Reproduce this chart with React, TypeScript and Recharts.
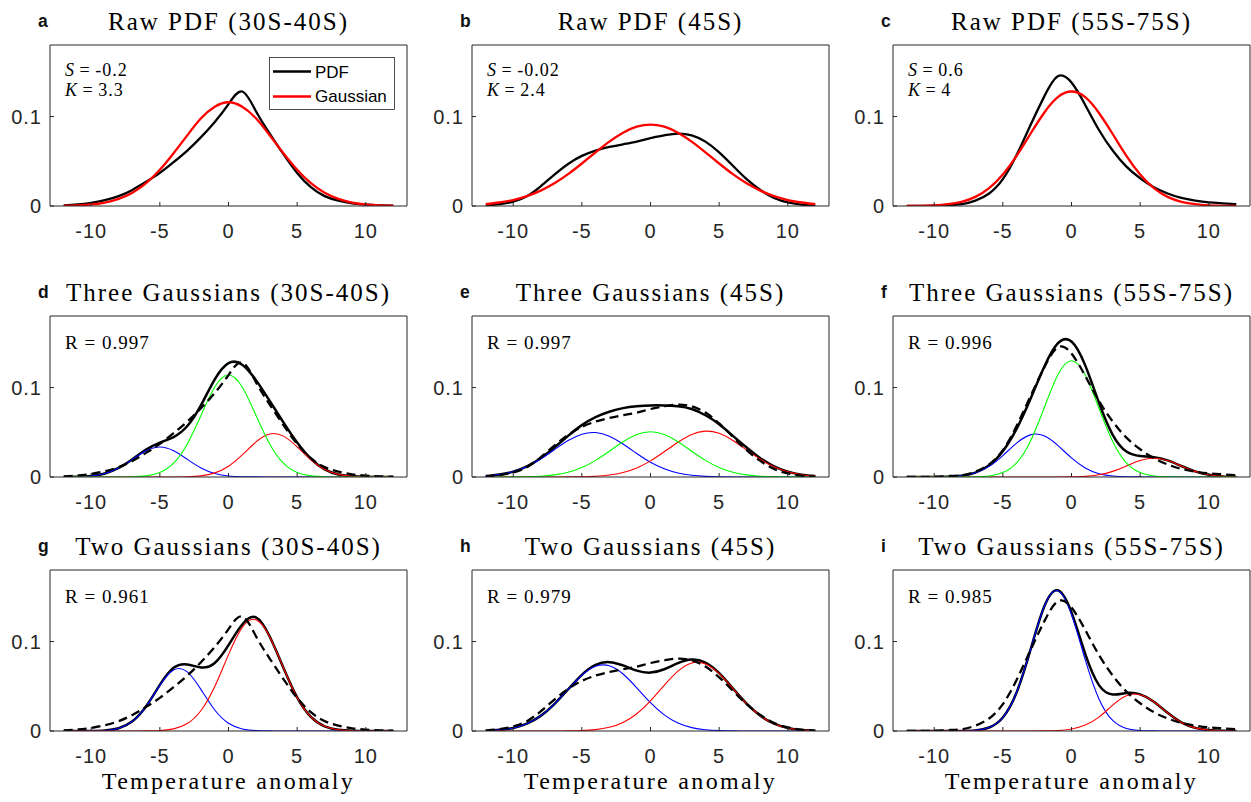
import React from "react";
import { LineChart, Line, XAxis, YAxis } from "recharts";

// temperature anomaly grid shared by every panel
const xs = [-12, -11, -10, -9, -8, -7, -6, -5, -4, -3, -2, -1, 0, 1, 2, 3, 4, 5, 6, 7, 8, 9, 10, 11, 12];
const xTicks = [-10, -5, 0, 5, 10];
const yTicks = [0, 0.1];

// raw PDFs (solid black in top row, dashed in the fit rows)
const pdf3040 = [0.0008, 0.0017, 0.0035, 0.0065, 0.011, 0.018, 0.027, 0.037, 0.049, 0.062, 0.077, 0.094, 0.114, 0.128, 0.106, 0.081, 0.058, 0.037, 0.021, 0.011, 0.006, 0.003, 0.0015, 0.0008, 0.0004];
const pdf45 = [0.0005, 0.002, 0.005, 0.011, 0.022, 0.035, 0.047, 0.056, 0.062, 0.066, 0.069, 0.072, 0.076, 0.079, 0.081, 0.079, 0.072, 0.06, 0.045, 0.03, 0.018, 0.009, 0.004, 0.0015, 0.0005];
const pdf5575 = [0, 0.0001, 0.0003, 0.001, 0.002, 0.006, 0.014, 0.03, 0.057, 0.09, 0.122, 0.145, 0.138, 0.113, 0.085, 0.062, 0.044, 0.031, 0.021, 0.014, 0.009, 0.006, 0.004, 0.003, 0.002];

// single gaussian fits (red, top row)
const gauss3040 = [0.0003, 0.0007, 0.0017, 0.0039, 0.0079, 0.0148, 0.0255, 0.0405, 0.059, 0.079, 0.098, 0.111, 0.116, 0.111, 0.098, 0.079, 0.059, 0.0405, 0.0255, 0.0148, 0.0079, 0.0039, 0.0017, 0.0007, 0.0003];
const gauss45 = [0.0021, 0.0039, 0.0067, 0.011, 0.0172, 0.0254, 0.0356, 0.0475, 0.06, 0.072, 0.082, 0.0887, 0.091, 0.0887, 0.082, 0.072, 0.06, 0.0475, 0.0356, 0.0254, 0.0172, 0.011, 0.0067, 0.0039, 0.0021];
const gauss5575 = [0.0001, 0.0002, 0.0007, 0.002, 0.0047, 0.0102, 0.02, 0.0353, 0.0561, 0.0805, 0.104, 0.1216, 0.128, 0.1216, 0.104, 0.0805, 0.0561, 0.0353, 0.02, 0.0102, 0.0047, 0.002, 0.0007, 0.0002, 0.0001];

// three gaussians, 30S-40S
const fit3a = [0, 0.0003, 0.0012, 0.004, 0.0101, 0.0199, 0.0306, 0.0385, 0.0447, 0.057, 0.0804, 0.1092, 0.1273, 0.1256, 0.1083, 0.0851, 0.0611, 0.0386, 0.0204, 0.0086, 0.0029, 0.0008, 0.0002, 0, 0];
const blue3a = [0, 0.0003, 0.0012, 0.004, 0.0101, 0.0197, 0.0293, 0.0335, 0.0293, 0.0197, 0.0101, 0.004, 0.0012, 0.0003, 0.0001, 0, 0, 0, 0, 0, 0, 0, 0, 0, 0];
const green3a = [0, 0, 0, 0, 0, 0.0002, 0.0013, 0.005, 0.0154, 0.037, 0.069, 0.1006, 0.114, 0.1006, 0.069, 0.037, 0.0154, 0.005, 0.0013, 0.0002, 0, 0, 0, 0, 0];
const red3a = [0, 0, 0, 0, 0, 0, 0, 0, 0, 0.0003, 0.0013, 0.0046, 0.0121, 0.0247, 0.0392, 0.0481, 0.0457, 0.0336, 0.0191, 0.0084, 0.0029, 0.0008, 0.0002, 0, 0];

// three gaussians, 45S
const fit3b = [0.001, 0.0028, 0.006, 0.012, 0.021, 0.033, 0.046, 0.058, 0.067, 0.073, 0.077, 0.079, 0.08, 0.08, 0.079, 0.076, 0.069, 0.059, 0.046, 0.033, 0.021, 0.012, 0.006, 0.0026, 0.001];
const blue3b = [0.0011, 0.0028, 0.0061, 0.0118, 0.0202, 0.0305, 0.0407, 0.0479, 0.0497, 0.0455, 0.0368, 0.0263, 0.0165, 0.0092, 0.0045, 0.0019, 0.0007, 0.0002, 0, 0, 0, 0, 0, 0, 0];
const green3b = [0, 0, 0.0001, 0.0003, 0.0009, 0.0024, 0.0053, 0.0106, 0.0186, 0.0288, 0.0394, 0.0475, 0.0506, 0.0475, 0.0394, 0.0288, 0.0186, 0.0106, 0.0053, 0.0024, 0.0009, 0.0003, 0.0001, 0, 0];
const red3b = [0, 0, 0, 0, 0, 0, 0.0001, 0.0003, 0.0009, 0.0022, 0.005, 0.0101, 0.018, 0.0282, 0.0389, 0.0476, 0.0513, 0.0488, 0.0409, 0.0303, 0.0198, 0.0114, 0.0058, 0.0026, 0.001];

// three gaussians, 55S-75S
const fit3c = [0, 0, 0.0001, 0.0003, 0.0014, 0.0049, 0.013, 0.0289, 0.0538, 0.0869, 0.1228, 0.1493, 0.1515, 0.1248, 0.083, 0.0472, 0.0285, 0.0234, 0.0221, 0.0186, 0.0123, 0.0063, 0.0025, 0.0007, 0.0002];
const blue3c = [0, 0, 0.0001, 0.0003, 0.0014, 0.0047, 0.0119, 0.024, 0.0379, 0.0471, 0.046, 0.0353, 0.0213, 0.0101, 0.0037, 0.0011, 0.0003, 0.0001, 0, 0, 0, 0, 0, 0, 0];
const green3c = [0, 0, 0, 0, 0, 0.0002, 0.0011, 0.0049, 0.0159, 0.0398, 0.0768, 0.114, 0.13, 0.114, 0.0768, 0.0398, 0.0159, 0.0049, 0.0011, 0.0002, 0, 0, 0, 0, 0];
const red3c = [0, 0, 0, 0, 0, 0, 0, 0, 0, 0, 0, 0, 0.0002, 0.0007, 0.0025, 0.0063, 0.0123, 0.0184, 0.021, 0.0184, 0.0123, 0.0063, 0.0025, 0.0007, 0.0002];

// two gaussians
const fit2a = [0, 0, 0.0001, 0.0006, 0.0031, 0.0108, 0.0277, 0.0515, 0.0706, 0.0744, 0.071, 0.076, 0.096, 0.119, 0.127, 0.1056, 0.0707, 0.0375, 0.0157, 0.0052, 0.0014, 0.0003, 0, 0, 0];
const blue2a = [0, 0, 0.0001, 0.0006, 0.0031, 0.0108, 0.0276, 0.051, 0.0682, 0.0661, 0.0463, 0.0235, 0.0087, 0.0023, 0.0004, 0.0001, 0, 0, 0, 0, 0, 0, 0, 0, 0];
const red2a = [0, 0, 0, 0, 0, 0, 0.0001, 0.0005, 0.0024, 0.0083, 0.0229, 0.0497, 0.0854, 0.1159, 0.1244, 0.1055, 0.0707, 0.0375, 0.0157, 0.0052, 0.0014, 0.0003, 0, 0, 0];

const fit2b = [0.0004, 0.0013, 0.0034, 0.0082, 0.0169, 0.0301, 0.0466, 0.0628, 0.0739, 0.077, 0.0733, 0.0675, 0.0653, 0.069, 0.0758, 0.0799, 0.0764, 0.0646, 0.0476, 0.0305, 0.017, 0.0082, 0.0034, 0.0012, 0.0004];
const blue2b = [0.0004, 0.0013, 0.0034, 0.0082, 0.0169, 0.0301, 0.0465, 0.0623, 0.0724, 0.0729, 0.0637, 0.0482, 0.0316, 0.018, 0.0089, 0.0038, 0.0014, 0.0005, 0.0001, 0, 0, 0, 0, 0, 0];
const red2b = [0, 0, 0, 0, 0, 0, 0.0001, 0.0005, 0.0015, 0.0041, 0.0096, 0.0193, 0.0337, 0.051, 0.0669, 0.0761, 0.075, 0.0641, 0.0475, 0.0305, 0.017, 0.0082, 0.0034, 0.0012, 0.0004];

const fit2c = [0, 0, 0, 0, 0.0001, 0.0007, 0.0039, 0.0151, 0.043, 0.0901, 0.1387, 0.1573, 0.1325, 0.0863, 0.0513, 0.0408, 0.0424, 0.041, 0.0328, 0.0203, 0.0096, 0.0035, 0.001, 0.0002, 0];
const blue2c = [0, 0, 0, 0, 0.0001, 0.0007, 0.0039, 0.0151, 0.043, 0.0901, 0.1386, 0.1568, 0.1303, 0.0797, 0.0358, 0.0118, 0.0029, 0.0005, 0.0001, 0, 0, 0, 0, 0, 0];
const red2c = [0, 0, 0, 0, 0, 0, 0, 0, 0, 0, 0.0001, 0.0005, 0.0022, 0.0066, 0.0155, 0.029, 0.0395, 0.0405, 0.0327, 0.0203, 0.0096, 0.0035, 0.001, 0.0002, 0];

const SANS = '"Liberation Sans", Arial, Helvetica, sans-serif';
const SERIF = '"Liberation Serif", "Times New Roman", serif';
const AX = "#262626";
const GREEN = "#00ff00";

const BOX_W = 357;
const BOX_H = 161;
const colLeft = [50, 472, 893];
const rowTop = [45, 316, 570];

type Series = { key: string; values: number[]; color: string; width: number; dash?: string };

const raw = (key: string, values: number[]): Series => ({ key, values, color: "#000", width: 2.3 });
const fitLine = (values: number[]): Series => ({ key: "fit", values, color: "#000", width: 2.5 });
const dashed = (values: number[]): Series => ({ key: "pdf", values, color: "#000", width: 2.3, dash: "9 5" });
const comp = (key: string, values: number[], color: string): Series => ({ key, values, color, width: 1.1 });

const sk = (s: string, k: string) => [
  <>
    <tspan fontStyle="italic">S</tspan>
    {"\u2009=\u2009" + s}
  </>,
  <>
    <tspan fontStyle="italic">K</tspan>
    {"\u2009=\u2009" + k}
  </>,
];
const rNote = (r: string) => ["R = " + r];

type PanelDef = {
  letter: string;
  title: string;
  col: number;
  row: number;
  series: Series[];
  notes: React.ReactNode[];
};

const panels: PanelDef[] = [
  { letter: "a", title: "Raw PDF (30S-40S)", col: 0, row: 0, series: [raw("pdf", pdf3040), { key: "gauss", values: gauss3040, color: "#ff0000", width: 2.3 }], notes: sk("-0.2", "3.3") },
  { letter: "b", title: "Raw PDF (45S)", col: 1, row: 0, series: [raw("pdf", pdf45), { key: "gauss", values: gauss45, color: "#ff0000", width: 2.3 }], notes: sk("-0.02", "2.4") },
  { letter: "c", title: "Raw PDF (55S-75S)", col: 2, row: 0, series: [raw("pdf", pdf5575), { key: "gauss", values: gauss5575, color: "#ff0000", width: 2.3 }], notes: sk("0.6", "4") },
  { letter: "d", title: "Three Gaussians (30S-40S)", col: 0, row: 1, series: [fitLine(fit3a), comp("blue", blue3a, "#0000ff"), comp("red", red3a, "#ff0000"), comp("green", green3a, GREEN), dashed(pdf3040)], notes: rNote("0.997") },
  { letter: "e", title: "Three Gaussians (45S)", col: 1, row: 1, series: [fitLine(fit3b), comp("blue", blue3b, "#0000ff"), comp("red", red3b, "#ff0000"), comp("green", green3b, GREEN), dashed(pdf45)], notes: rNote("0.997") },
  { letter: "f", title: "Three Gaussians (55S-75S)", col: 2, row: 1, series: [fitLine(fit3c), comp("blue", blue3c, "#0000ff"), comp("red", red3c, "#ff0000"), comp("green", green3c, GREEN), dashed(pdf5575)], notes: rNote("0.996") },
  { letter: "g", title: "Two Gaussians (30S-40S)", col: 0, row: 2, series: [fitLine(fit2a), comp("blue", blue2a, "#0000ff"), comp("red", red2a, "#ff0000"), dashed(pdf3040)], notes: rNote("0.961") },
  { letter: "h", title: "Two Gaussians (45S)", col: 1, row: 2, series: [fitLine(fit2b), comp("blue", blue2b, "#0000ff"), comp("red", red2b, "#ff0000"), dashed(pdf45)], notes: rNote("0.979") },
  { letter: "i", title: "Two Gaussians (55S-75S)", col: 2, row: 2, series: [fitLine(fit2c), comp("blue", blue2c, "#0000ff"), comp("red", red2c, "#ff0000"), dashed(pdf5575)], notes: rNote("0.985") },
];

const tickStyle = { fontSize: 20, fontFamily: SANS, fill: AX, letterSpacing: 1 };

function PdfChart({ left, top, series }: { left: number; top: number; series: Series[] }) {
  const rows = xs.map((x, i) => {
    const r: Record<string, number> = { x };
    series.forEach((s) => {
      r[s.key] = s.values[i];
    });
    return r;
  });
  const yAxW = 50;
  const mTop = 10;
  return (
    <div style={{ position: "absolute", left: left - yAxW, top: top - mTop - 1 }}>
      <LineChart width={yAxW + BOX_W + 1 + 3} height={mTop + 1 + BOX_H + 40} data={rows} margin={{ top: mTop, right: 3, left: 0, bottom: 0 }}>
        <XAxis dataKey="x" type="number" domain={[-13, 13]} ticks={xTicks} interval={0} allowDataOverflow height={40} stroke={AX} tickSize={-4} tickMargin={22} tick={tickStyle} />
        <XAxis xAxisId="top" orientation="top" dataKey="x" type="number" domain={[-13, 13]} ticks={xTicks} interval={0} allowDataOverflow height={1} stroke={AX} tickSize={-4} tick={false} />
        <YAxis type="number" domain={[0, 0.18]} ticks={yTicks} interval={0} allowDataOverflow width={yAxW} stroke={AX} tickSize={-4} tickMargin={12} tick={tickStyle} />
        <YAxis yAxisId="right" orientation="right" type="number" domain={[0, 0.18]} ticks={yTicks} interval={0} allowDataOverflow width={1} stroke={AX} tickSize={-4} tick={false} />
        {series.map((s) => (
          <Line key={s.key} dataKey={s.key} type="natural" stroke={s.color} strokeWidth={s.width} strokeDasharray={s.dash} dot={false} activeDot={false} isAnimationActive={false} />
        ))}
      </LineChart>
    </div>
  );
}

export default function App() {
  return (
    <div style={{ position: "absolute", left: 0, top: 0, width: 1251, height: 802, overflow: "hidden", background: "#fff" }}>
      {panels.map((p) => (
        <PdfChart key={p.letter} left={colLeft[p.col]} top={rowTop[p.row]} series={p.series} />
      ))}
      <svg width={1251} height={802} style={{ position: "absolute", left: 0, top: 0, pointerEvents: "none" }}>
        {panels.map((p) => {
          const left = colLeft[p.col];
          const top = rowTop[p.row];
          return (
            <g key={p.letter}>
              <text x={left - 12} y={top - 18} fontFamily={SANS} fontWeight="bold" fontSize={17.5} fill="#111">
                {p.letter}
              </text>
              <text x={left + BOX_W / 2} y={top - 15} textAnchor="middle" fontFamily={SERIF} fontSize={25} letterSpacing={2} fill="#000">
                {p.title}
              </text>
              {p.notes.map((n, i) => (
                <text key={i} x={left + 15} y={top + (p.row === 0 ? 31 + i * 20 : 33)} fontFamily={SERIF} fontSize={p.row === 0 ? 18 : 19} letterSpacing={1} fill="#000">
                  {n}
                </text>
              ))}
              {p.row === 2 && (
                <text x={left + BOX_W / 2} y={789} textAnchor="middle" fontFamily={SERIF} fontSize={24} letterSpacing={2.3} fill="#000">
                  Temperature anomaly
                </text>
              )}
            </g>
          );
        })}
        {/* legend of panel a */}
        <rect x={269.5} y={57.5} width={125} height={52} fill="#fff" stroke={AX} strokeWidth={0.8} />
        <line x1={273} x2={311} y1={71.5} y2={71.5} stroke="#000" strokeWidth={2.3} />
        <line x1={273} x2={311} y1={96.5} y2={96.5} stroke="#ff0000" strokeWidth={2.3} />
        <text x={315} y={77.5} fontFamily={SANS} fontSize={17} fill="#000">PDF</text>
        <text x={315} y={102} fontFamily={SANS} fontSize={17} fill="#000">Gaussian</text>
      </svg>
    </div>
  );
}
